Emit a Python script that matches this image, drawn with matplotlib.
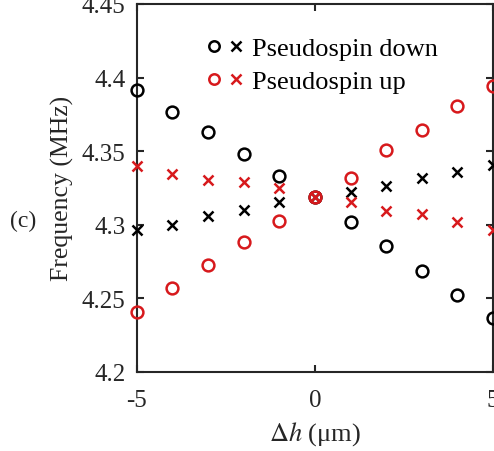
import matplotlib
matplotlib.use("Agg")
import matplotlib.pyplot as plt
from matplotlib.legend_handler import HandlerTuple
from matplotlib.lines import Line2D

plt.rcParams['font.family'] = ['Liberation Serif', 'DejaVu Serif']
plt.rcParams['mathtext.fontset'] = 'stix'
plt.rcParams['axes.unicode_minus'] = False

dh = [-5, -4, -3, -2, -1, 0, 1, 2, 3, 4, 5]
down_circle = [4.3916, 4.3764, 4.3628, 4.3479, 4.3329, 4.3190, 4.3017, 4.2854, 4.2688, 4.2525, 4.2365]
down_cross = [4.2965, 4.3001, 4.3058, 4.3099, 4.3153, 4.3190, 4.3221, 4.3262, 4.3318, 4.3357, 4.3408]
up_circle = [4.2405, 4.2569, 4.2729, 4.2881, 4.3028, 4.3190, 4.3316, 4.3508, 4.3644, 4.3809, 4.3941]
up_cross = [4.3397, 4.3345, 4.3304, 4.3289, 4.3248, 4.3190, 4.3153, 4.3096, 4.3073, 4.3017, 4.2965]
xticks = [-5, 0, 5]
yticks = [4.2, 4.25, 4.3, 4.35, 4.4, 4.45]
ytick_labels = ['4.2', '4.25', '4.3', '4.35', '4.4', '4.45']

black = '#000000'
red = '#d7191c'

fig = plt.figure(figsize=(4.94, 4.52), dpi=100)
ax = fig.add_axes([0.277, 0.175, 0.721, 0.814])

ms = 8.5
mew = 1.8
ax.plot(dh, down_circle, 'o', mfc='none', mec=black, ms=ms, mew=mew, clip_on=False, zorder=3)
ax.plot(dh, down_cross, 'x', color=black, ms=ms - 1, mew=mew, clip_on=False, zorder=3)
ax.plot(dh, up_circle, 'o', mfc='none', mec=red, ms=ms, mew=mew, clip_on=False, zorder=4)
ax.plot(dh, up_cross, 'x', color=red, ms=ms - 1, mew=mew, clip_on=False, zorder=4)

ax.set_xlim(-5, 5)
ax.set_ylim(4.2, 4.45)
ax.set_xticks(xticks)
ax.set_xticklabels([str(t) for t in xticks])
ax.set_yticks(yticks)
ax.set_yticklabels(ytick_labels)
ax.tick_params(axis='both', direction='in', length=5, width=1.5, labelsize=18, colors='#262626',
               top=True, right=True)
ax.tick_params(axis='x', pad=12)
ax.tick_params(axis='y', pad=8)
for s in ax.spines.values():
    s.set_linewidth(1.5)
    s.set_color('#262626')

ax.set_xlabel(r'$\Delta h$ (μm)', fontsize=19, color='#262626', labelpad=6)
ax.set_ylabel('Frequency (MHz)', fontsize=18.5, color='#262626', labelpad=6)

h_down = (Line2D([], [], ls='none', marker='o', mfc='none', mec=black, ms=7.5, mew=1.8),
          Line2D([], [], ls='none', marker='x', color=black, ms=7, mew=1.8))
h_up = (Line2D([], [], ls='none', marker='o', mfc='none', mec=red, ms=7.5, mew=1.8),
        Line2D([], [], ls='none', marker='x', color=red, ms=7, mew=1.8))
ax.legend([h_down, h_up], ['Pseudospin down', 'Pseudospin up'],
          handler_map={tuple: HandlerTuple(ndivide=None, pad=0.2)},
          loc='upper left', bbox_to_anchor=(0.163, 0.94), frameon=False,
          fontsize=19, handlelength=1.5, handletextpad=0.25, labelspacing=0.35,
          borderaxespad=0)

fig.text(0.047, 0.509, '(c)', fontsize=17, ha='center', va='center', color='#262626')

fig.savefig('out.png', dpi=100)
